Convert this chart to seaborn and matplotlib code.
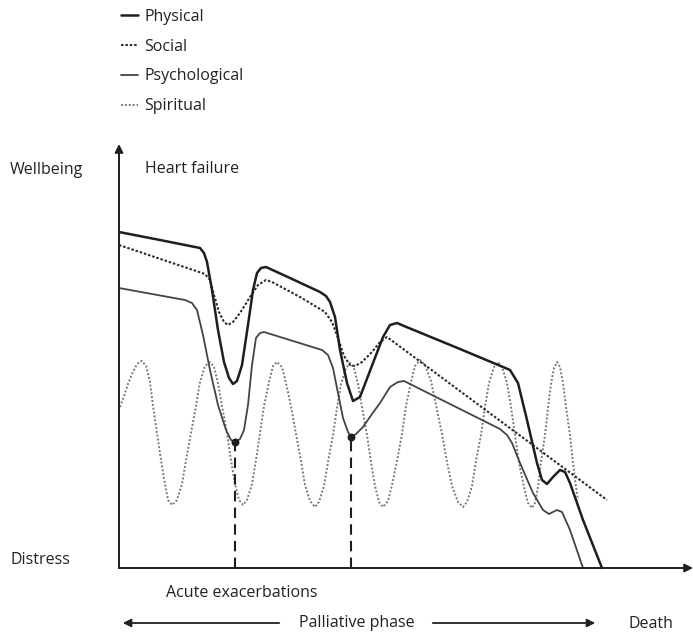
import numpy as np
import pandas as pd
import seaborn as sns
import matplotlib
matplotlib.use("Agg")
import matplotlib.pyplot as plt
from matplotlib.lines import Line2D

# ---- data (arbitrary units: time from onset, wellbeing above "distress") ----
phys_t = [0, 41, 76, 81, 85, 88, 93, 99, 105, 110, 114, 118, 123, 129, 134, 138, 142, 147,
          171, 201, 207, 211, 216, 221, 228, 234, 241, 254, 264, 271, 278, 285, 341, 384,
          391, 399, 408, 418, 423, 428, 434, 441, 446, 451, 464, 483]
phys_w = [336, 328, 321, 320, 315, 306, 278, 238, 206, 190, 184, 187, 203, 243, 278, 295, 300, 301,
          290, 276, 272, 266, 251, 218, 185, 167, 171, 205, 231, 243, 245, 242, 219, 201,
          198, 185, 148, 105, 88, 84, 91, 98, 96, 85, 48, 0]

soc_t = [0, 86, 91, 95, 100, 105, 109, 114, 121, 131, 139, 147, 153, 181, 206, 213, 219, 225,
         231, 236, 243, 253, 261, 268, 488]
soc_w = [323, 294, 288, 273, 256, 246, 243, 246, 255, 271, 283, 288, 286, 271, 256, 246, 230, 212,
         203, 202, 206, 216, 226, 231, 68]

psy_t = [0, 66, 73, 78, 84, 91, 99, 107, 112, 116, 121, 125, 129, 133, 137, 141, 145, 203, 209,
         214, 219, 224, 229, 232, 237, 244, 253, 261, 271, 279, 285, 381, 388, 393, 401, 414,
         424, 430, 438, 443, 451, 464]
psy_w = [280, 268, 265, 258, 233, 198, 163, 138, 128, 126, 129, 138, 163, 203, 230, 235, 236, 218, 213,
         200, 175, 150, 136, 131, 134, 141, 154, 165, 181, 186, 187, 139, 133, 125, 105, 75,
         58, 54, 58, 56, 38, 0]

spi_t = [1, 5, 9, 13, 17, 20, 23,
         27, 31, 34, 38, 42, 46, 49, 53,
         58, 63, 67, 72, 77, 81, 86, 91,
         95, 99, 103, 108, 112, 116, 120, 124,
         128, 133, 137, 141, 145, 150, 154, 158,
         163, 167, 172, 177, 182, 186, 191, 196,
         200, 205, 209, 214, 218, 222, 227, 231,
         235, 239, 243, 248, 252, 256, 260, 264,
         269, 273, 278, 283, 287, 292, 296, 301,
         306, 312, 317, 323, 328, 333, 339, 344,
         348, 353, 357, 362, 366, 370, 375, 379,
         383, 388, 392, 396, 400, 405, 409, 413,
         416, 419, 422, 426, 429, 432, 435, 438,
         441, 444, 447, 451, 454, 457, 459]
spi_w = [161, 172, 184, 194, 202, 206, 207,
         202, 186, 162, 135, 108, 84, 68, 63,
         68, 84, 108, 135, 162, 186, 202, 206,
         201, 185, 162, 135, 108, 84, 68, 63,
         68, 84, 108, 135, 162, 186, 202, 206,
         201, 185, 162, 134, 107, 83, 67, 61,
         66, 82, 106, 133, 160, 184, 200, 205,
         200, 184, 161, 133, 106, 82, 66, 61,
         67, 83, 107, 134, 162, 186, 202, 208,
         203, 187, 163, 134, 106, 82, 66, 61,
         66, 82, 107, 133, 161, 185, 201, 206,
         201, 185, 161, 133, 105, 81, 65, 60,
         65, 81, 106, 133, 160, 184, 200, 206,
         201, 185, 161, 133, 105, 81, 68]

exac_t = [116, 232]
exac_w = [126, 131]

series_labels = ["Physical", "Social", "Psychological", "Spiritual"]

# ---- figure ----
sns.set_theme(style="white")
plt.rcParams["font.family"] = ["Open Sans", "DejaVu Sans"]
W, H = 693, 639
FS = 11.5
fig = plt.figure(figsize=(W / 100, H / 100), dpi=100)
fig.patch.set_facecolor("white")
ax = fig.add_axes([119 / W, (H - 568) / H, 575 / W, 428 / H])
ax.set_xlim(0, 575)
ax.set_ylim(0, 428)
ax.set_facecolor("none")
for s in ax.spines.values():
    s.set_visible(False)
ax.set_xticks([])
ax.set_yticks([])

styles = {
    "Physical": dict(color="#1e1e1e", lw=1.8, ls="-"),
    "Social": dict(color="#2e2e2e", lw=1.5, ls=(0, (1.2, 0.9))),
    "Psychological": dict(color="#444444", lw=1.3, ls="-"),
    "Spiritual": dict(color="#7a7a7a", lw=1.4, ls=(0, (1.0, 1.0))),
}
data = {
    "Physical": (phys_t, phys_w),
    "Social": (soc_t, soc_w),
    "Psychological": (psy_t, psy_w),
    "Spiritual": (spi_t, spi_w),
}
for name in ["Spiritual", "Psychological", "Social", "Physical"]:
    t, w = data[name]
    df = pd.DataFrame({"t": t, "w": w})
    st = styles[name]
    sns.lineplot(data=df, x="t", y="w", ax=ax, sort=False, estimator=None,
                 color=st["color"], linewidth=st["lw"], linestyle=st["ls"],
                 legend=False, clip_on=False, solid_capstyle="round")

# acute exacerbation markers
for t, w in zip(exac_t, exac_w):
    ax.plot([t, t], [0, w], color="#1e1e1e", lw=1.5, ls=(0, (5, 3)))
ax.scatter(exac_t, exac_w, s=22, color="#1e1e1e", zorder=5)

ax.set_xlabel("")
ax.set_ylabel("")

# axes arrows
ax.annotate("", xy=(0, 424), xytext=(0, 0), xycoords="data",
            arrowprops=dict(arrowstyle="-|>", lw=1.4, color="#1e1e1e",
                            mutation_scale=12, shrinkA=0, shrinkB=0))
ax.annotate("", xy=(574, 0), xytext=(0, 0), xycoords="data",
            arrowprops=dict(arrowstyle="-|>", lw=1.4, color="#1e1e1e",
                            mutation_scale=12, shrinkA=0, shrinkB=0))

# legend
handles = [Line2D([0], [0], color=styles[n]["color"], lw=styles[n]["lw"],
                  ls=styles[n]["ls"]) for n in series_labels]
fig.legend(handles, series_labels, loc="upper left",
           bbox_to_anchor=(121 / W, 1 - 9 / H), frameon=False,
           fontsize=FS, handlelength=1.05, handletextpad=0.4,
           labelspacing=0.86, borderpad=0, borderaxespad=0,
           labelcolor="#222222")

def ftext(x, y, s, **kw):
    fig.text(x / W, 1 - y / H, s, fontsize=FS, color="#222222", va="center", **kw)

ftext(10, 170, "Wellbeing")
ftext(145, 169, "Heart failure")
ftext(10, 560, "Distress")
ftext(166, 593, "Acute exacerbations")
ftext(357, 623, "Palliative phase", ha="center")
ftext(628, 624, "Death")

fig.add_artist(matplotlib.patches.FancyArrowPatch(
    (282 / W, 1 - 623 / H), (120 / W, 1 - 623 / H), transform=fig.transFigure,
    arrowstyle="-|>", mutation_scale=12, lw=1.3, color="#222222"))
fig.add_artist(matplotlib.patches.FancyArrowPatch(
    (430 / W, 1 - 623 / H), (598 / W, 1 - 623 / H), transform=fig.transFigure,
    arrowstyle="-|>", mutation_scale=12, lw=1.3, color="#222222"))

fig.savefig("out.png", dpi=100, facecolor="white")
